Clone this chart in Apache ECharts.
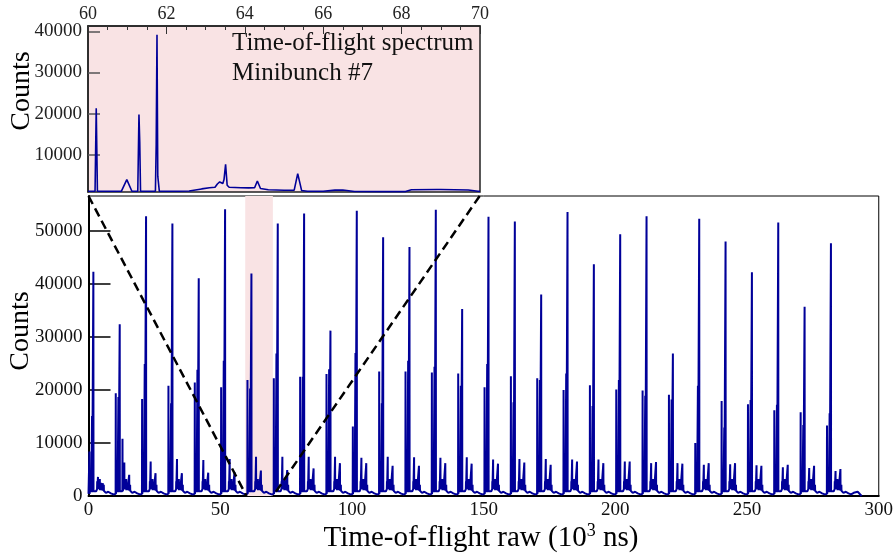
<!DOCTYPE html>
<html><head><meta charset="utf-8">
<script src="https://cdn.jsdelivr.net/npm/echarts@6/dist/echarts.min.js"></script>
<style>html,body{margin:0;padding:0;background:#fff}#c{width:896px;height:557px}</style>
</head><body><div id="c"></div>
<script>
// ---- data (units: 10^3 ns, counts) ----
const bunchStarts = [0,10,20,30,40,50,60,70,80,90,100,110,120,130,140,150,160,170,180,190,200,210,220,230,240,250,260,270,280];
const peakOffsets = [0.35, 1.35, 1.85, 3.6, 5.45];
const prePeakHeights  = [8400,19400,18300,20800,21400,20500,21900,22200,22500,23000,13100,23500,23500,23300,23100,20500,22600,22200,20000,20900,20100,19900,19100,10000,17900,17300,16200,15800,13300];
const midPeakHeights  = [15100,18700,24900,17500,23800,25500,20300,26900,22500,23900,27000,17500,25500,24400,20800,24900,17700,21900,23100,17000,21900,18900,18200,20800,12900,18100,17200,13400,15600];
const mainPeakHeights = [42300,32400,52800,51400,41100,54100,42000,51400,53300,31200,53800,48800,47000,54000,35300,52700,51800,38000,53600,43700,49400,52800,26900,52300,48000,42200,51600,35700,47700];
const side1Heights    = [3600,6300,6500,7000,6800,7000,7400,7400,7400,7400,7200,7400,7300,7200,7300,6900,7000,7000,6900,6900,6500,6200,6200,5900,6000,5800,5400,5300,4700];
const side2Heights    = [2400,4000,4300,4300,4400,4500,4800,4900,5200,6200,6200,5700,5700,6200,6100,6100,6300,5900,6500,6200,6500,6400,6100,6200,6200,5700,5900,5700,5100];
const minorPeakOffsets = [1.0, 3.3, 4.3, 4.7, 5.8];
const minorPeakHeights = [3200, 2800, 3200, 2500, 2100];
const baseOffsets = [0.0, 0.9, 1.6, 2.2, 2.9, 3.3, 4.0, 4.8, 5.9, 6.6, 7.5, 8.5, 9.5];
const baseCounts  = [400, 700, 900, 1000, 900, 1300, 1100, 1000, 700, 600, 800, 500, 300];
const extraPeakX = [12.9];
const extraPeakY = [10800];
const tailX = [290.5, 292.0, 293.5];
const tailY = [600, 800, 0];

const insetX = [60.0,60.18,60.21,60.24,60.85,60.99,61.12,61.27,61.30,61.32,61.34,61.72,61.74,61.76,61.78,61.80,61.82,62.3,62.58,62.60,62.62,62.9,63.1,63.24,63.30,63.36,63.40,63.44,63.47,63.51,63.55,63.6,63.9,64.1,64.25,64.32,64.40,64.6,65.0,65.26,65.35,65.45,65.6,66.0,66.3,66.5,66.8,67.5,68.1,68.25,68.9,68.95,69.0,69.7,69.95,70.0];
const insetY = [1120,1120,21300,1120,1120,3970,1120,1120,19800,13100,1120,1120,12600,39200,4800,4800,1120,1150,1200,1500,1250,1700,2000,2100,2900,3400,3630,3000,3970,7700,2600,2100,2000,1950,2000,3630,1800,1500,1360,1400,5430,1300,1120,1150,1400,1450,1080,1050,1050,1500,1550,1780,1550,1450,1120,1100];

const mainTicks = [0,10000,20000,30000,40000,50000];
const insetTicks = [10000,20000,30000,40000];
const zoomBand = [59.5, 70];
const mainYMax = 56600;
const zoomLinkA = [[0, mainYMax],[60, 0]];
const zoomLinkB = [[148.5, mainYMax],[70, 0]];

// ---- build main spectrum polyline ----
function baseAt(off){ let v = baseCounts[0]; for (let i=0;i<baseOffsets.length;i++){ if (baseOffsets[i] <= off) v = baseCounts[i]; } return v; }
const pts = [];
function spike(x, h, b){ pts.push([x-0.05, b],[x, h],[x+0.05, b]); }
const peakSets = [prePeakHeights, midPeakHeights, mainPeakHeights, side1Heights, side2Heights];
bunchStarts.forEach((s, k) => {
  baseOffsets.forEach((o, i) => pts.push([s + o, baseCounts[i]]));
  peakOffsets.forEach((o, j) => spike(s + o, peakSets[j][k], baseAt(o)));
  minorPeakOffsets.forEach((o, j) => spike(s + o, minorPeakHeights[j], baseAt(o)));
});
extraPeakX.forEach((x, i) => spike(x, extraPeakY[i], baseAt(x % 10)));
tailX.forEach((x, i) => pts.push([x, tailY[i]]));
pts.sort((a, b) => a[0] - b[0]);
const insetData = insetX.map((x, i) => [x, insetY[i]]);

const serif = '"Liberation Serif", "Times New Roman", serif';
const lineColor = '#000099';
const pink = '#F9E3E4';
const plain = v => String(v);

const chart = echarts.init(document.getElementById('c'), null, {renderer: 'canvas'});
chart.setOption({
  animation: false,
  backgroundColor: '#fff',
  grid: [
    {left: 88.5, top: 196, width: 792.5, height: 300, show: true, borderColor: '#000', borderWidth: 1, backgroundColor: 'transparent'},
    {left: 88, top: 26, width: 392, height: 166, show: true, borderColor: '#222', borderWidth: 1.5, backgroundColor: pink}
  ],
  xAxis: [
    {gridIndex: 0, type: 'value', min: 0, max: 300, interval: 50,
     axisLine: {show: true, lineStyle: {color: '#000', width: 2}},
     axisTick: {show: false}, splitLine: {show: false},
     axisLabel: {fontFamily: serif, fontSize: 19, color: '#111', margin: 5, formatter: plain}},
    {gridIndex: 1, type: 'value', position: 'top', min: 60, max: 70, interval: 2,
     axisLine: {show: true, lineStyle: {color: '#222', width: 1.5}},
     axisTick: {show: true, inside: true, length: 8, lineStyle: {color: '#333', width: 1}},
     minorTick: {show: true, splitNumber: 4, length: 4, lineStyle: {color: '#333', width: 1}},
     splitLine: {show: false},
     axisLabel: {fontFamily: serif, fontSize: 18, color: '#222', margin: 3, formatter: plain}}
  ],
  yAxis: [
    {gridIndex: 0, type: 'value', min: 0, max: mainYMax,
     axisLine: {show: true, lineStyle: {color: '#000', width: 2}},
     axisTick: {show: true, inside: true, length: 22, customValues: mainTicks, lineStyle: {color: '#000', width: 1.5}},
     splitLine: {show: false},
     axisLabel: {fontFamily: serif, fontSize: 19, color: '#111', margin: 6, customValues: mainTicks, formatter: plain}},
    {gridIndex: 1, type: 'value', min: 950, max: 41300,
     axisLine: {show: true, lineStyle: {color: '#222', width: 1.5}},
     axisTick: {show: true, inside: true, length: 12, customValues: insetTicks, lineStyle: {color: '#555', width: 1.5}},
     splitLine: {show: false},
     axisLabel: {fontFamily: serif, fontSize: 19, color: '#222', margin: 6, customValues: insetTicks, formatter: plain}}
  ],
  series: [
    {type: 'line', xAxisIndex: 0, yAxisIndex: 0, data: [], z: 1, silent: true,
     markArea: {silent: true, itemStyle: {color: pink}, data: [[{xAxis: zoomBand[0]}, {xAxis: zoomBand[1]}]]}},
    {type: 'line', xAxisIndex: 0, yAxisIndex: 0, data: pts, z: 2, showSymbol: false, symbol: 'none',
     lineStyle: {color: lineColor, width: 2}},
    {type: 'line', xAxisIndex: 1, yAxisIndex: 1, data: insetData, z: 2, showSymbol: false, symbol: 'none',
     lineStyle: {color: lineColor, width: 1.6}},
    {type: 'line', xAxisIndex: 0, yAxisIndex: 0, data: zoomLinkA, z: 5, symbol: 'none',
     lineStyle: {color: '#000', width: 2.5, type: [9, 5]}},
    {type: 'line', xAxisIndex: 0, yAxisIndex: 0, data: zoomLinkB, z: 5, symbol: 'none',
     lineStyle: {color: '#000', width: 2.5, type: [9, 5]}}
  ],
  graphic: [
    {type: 'text', x: 232, y: 56, style: {text: 'Time-of-flight spectrum', font: '25px ' + serif, fill: '#111', textVerticalAlign: 'bottom'}},
    {type: 'text', x: 232, y: 86, style: {text: 'Minibunch #7', font: '25px ' + serif, fill: '#111', textVerticalAlign: 'bottom'}},
    {type: 'text', x: 22, y: 91, rotation: Math.PI/2, style: {text: 'Counts', font: '28px ' + serif, fill: '#000', textAlign: 'center', textVerticalAlign: 'middle'}},
    {type: 'text', x: 21, y: 331, rotation: Math.PI/2, style: {text: 'Counts', font: '28px ' + serif, fill: '#000', textAlign: 'center', textVerticalAlign: 'middle'}},
    {type: 'text', x: 481, y: 538, style: {text: '{a|Time-of-flight raw (10}{s|3}{a| ns)}', textAlign: 'center', textVerticalAlign: 'middle',
      rich: {a: {fontFamily: serif, fontSize: 29, fill: '#000', color: '#000'}, s: {fontFamily: serif, fontSize: 18, color: '#000', padding: [0, 0, 14, 0]}}}}
  ]
});
</script></body></html>
